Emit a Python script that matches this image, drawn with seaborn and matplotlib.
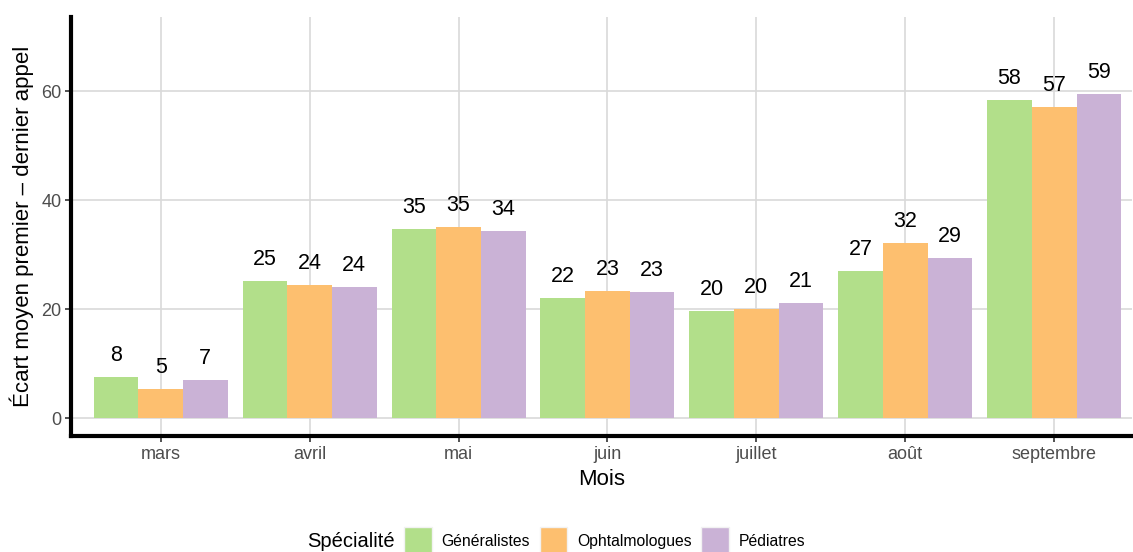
import numpy as np
import pandas as pd
import matplotlib
matplotlib.use("Agg")
import matplotlib.pyplot as plt
from matplotlib.patches import Patch
import seaborn as sns

# === Données ===
mois = ["mars", "avril", "mai", "juin", "juillet", "août", "septembre"]
specialites = ["Généralistes", "Ophtalmologues", "Pédiatres"]
generalistes = [7.6, 25.1, 34.7, 22.0, 19.6, 27.0, 58.3]
ophtalmologues = [5.3, 24.4, 35.0, 23.3, 20.0, 32.1, 57.1]
pediatres = [7.0, 24.0, 34.3, 23.1, 21.1, 29.4, 59.4]
couleurs = ["#B2DF8A", "#FDBF6F", "#CAB2D6"]

df = pd.DataFrame({
    "Mois": mois * 3,
    "Spécialité": np.repeat(specialites, len(mois)),
    "Ecart": generalistes + ophtalmologues + pediatres,
})

# === Style ===
sns.set_theme(style="whitegrid")
plt.rcParams["font.family"] = ["Liberation Sans", "DejaVu Sans"]
plt.rcParams["text.color"] = "black"

fig = plt.figure(figsize=(11.33, 5.52), dpi=100)
ax = fig.add_axes([0.0627, 0.2101, 0.9365, 0.759])

sns.barplot(data=df, x="Mois", y="Ecart", hue="Spécialité", order=mois,
            hue_order=specialites, palette=couleurs, saturation=1,
            width=0.9, linewidth=0, errorbar=None, legend=False, ax=ax)

# étiquettes au-dessus des barres
for cont in ax.containers:
    for rect in cont:
        h = rect.get_height()
        ax.annotate(f"{h:.0f}", (rect.get_x() + rect.get_width() / 2, h),
                    xytext=(0, 11.5), textcoords="offset points",
                    ha="center", va="baseline", fontsize=15.5, color="black")

ax.set_xlim(-0.602, 6.523)
ax.set_ylim(-3.3, 73.6)
ax.set_yticks([0, 20, 40, 60])

ax.set_axisbelow(True)
ax.grid(True, color="#D9D9D9", linewidth=1.2)
for s in ["top", "right"]:
    ax.spines[s].set_visible(False)
for s in ["left", "bottom"]:
    ax.spines[s].set_visible(True)
    ax.spines[s].set_color("black")
    ax.spines[s].set_linewidth(3)

ax.tick_params(axis="both", length=4, width=1.2, color="#333333",
               labelcolor="#4D4D4D", labelsize=13, pad=3)
ax.tick_params(axis="x", bottom=True)
ax.tick_params(axis="y", left=True)

ax.set_xlabel("Mois", fontsize=16, color="black")
ax.set_ylabel("Écart moyen premier – dernier appel", fontsize=16, color="black")
ax.xaxis.set_label_coords(0.5, -0.078)
ax.xaxis.label.set_verticalalignment("top")
ax.yaxis.set_label_coords(-0.0462, 0.5)
ax.yaxis.label.set_verticalalignment("center")

# === Légende en bas ===
handles = [Patch(facecolor=c, edgecolor="#F2F2F2", linewidth=1) for c in couleurs]
fig.legend(handles, specialites, loc="center", bbox_to_anchor=(0.5336, 0.0199),
           ncol=3, frameon=False, fontsize=11.3, handlelength=1.78,
           handleheight=2.37, handletextpad=0.6, columnspacing=0.6,
           borderpad=0, labelcolor="black")
fig.text(395 / 1133, 0.0199, "Spécialité", ha="right", va="center",
         fontsize=14.5, color="black")

fig.savefig("out.png", dpi=100)
